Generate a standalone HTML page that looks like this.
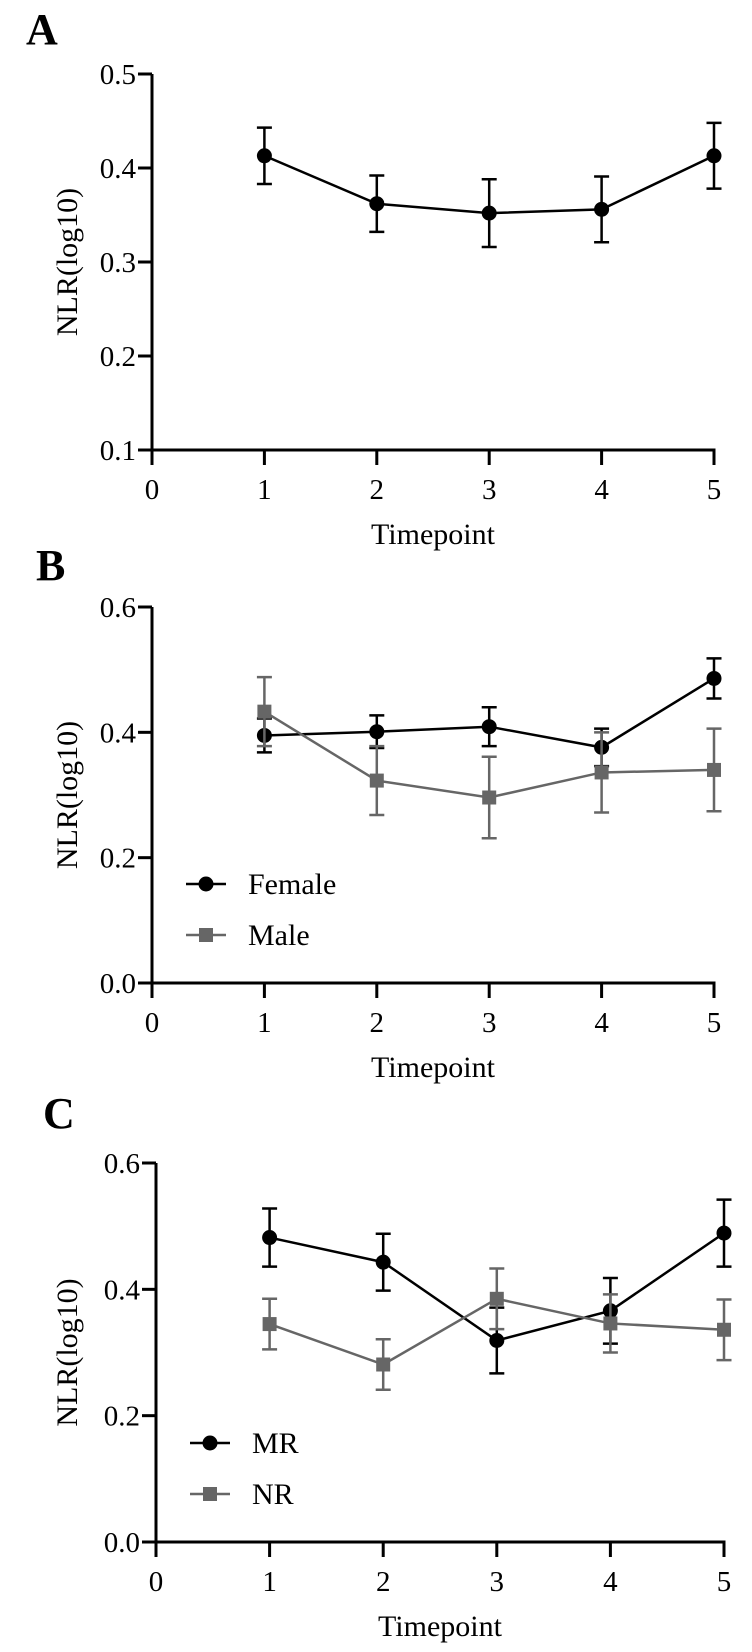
<!DOCTYPE html>
<html><head><meta charset="utf-8"><style>
html,body{margin:0;padding:0;background:#fff;}
svg{display:block;font-family:"Liberation Serif",serif;}
</style></head><body>
<svg id="fig" width="752" height="1652" viewBox="0 0 752 1652" xmlns="http://www.w3.org/2000/svg">
<text x="26" y="44" font-size="44" font-weight="bold">A</text>
<text x="36" y="580" font-size="44" font-weight="bold">B</text>
<text x="43" y="1128" font-size="44" font-weight="bold">C</text>
</svg>
<script>
const categories = [1, 2, 3, 4, 5];
const xTickLabels = ["0", "1", "2", "3", "4", "5"];
const aTickLabels = ["0.1", "0.2", "0.3", "0.4", "0.5"];
const bcTickLabels = ["0.0", "0.2", "0.4", "0.6"];
const aMean = [0.413, 0.362, 0.352, 0.356, 0.413];
const aSem = [0.030, 0.030, 0.036, 0.035, 0.035];
const femaleMean = [0.395, 0.401, 0.409, 0.376, 0.486];
const femaleSem = [0.027, 0.026, 0.031, 0.030, 0.032];
const maleMean = [0.433, 0.323, 0.296, 0.336, 0.340];
const maleSem = [0.055, 0.055, 0.065, 0.064, 0.066];
const mrMean = [0.482, 0.443, 0.319, 0.366, 0.489];
const mrSem = [0.046, 0.045, 0.052, 0.052, 0.053];
const nrMean = [0.345, 0.281, 0.385, 0.346, 0.336];
const nrSem = [0.040, 0.040, 0.048, 0.046, 0.048];

const svg = document.getElementById('fig');
const NS = 'http://www.w3.org/2000/svg';
function mk(tag, attrs) {
  const e = document.createElementNS(NS, tag);
  for (const k in attrs) e.setAttribute(k, attrs[k]);
  svg.appendChild(e);
  return e;
}
function txt(x, y, s, size, anchor) {
  const t = mk('text', {x: x, y: y, 'font-size': size, 'text-anchor': anchor || 'middle', fill: '#000'});
  t.textContent = s;
  return t;
}

function panel(p) {
  const xs = v => p.x0 + v * p.xu;
  const ys = v => p.yb - (v - p.ymin) / (p.ymax - p.ymin) * (p.yb - p.yt);
  let a = mk('line', {x1: p.x0, y1: p.yt, x2: p.x0, y2: p.yb + 1.5, stroke: '#000', 'stroke-width': 3});
  
  
  a = mk('line', {x1: p.x0 - 1.5, y1: p.yb, x2: xs(5) + 1.5, y2: p.yb, stroke: '#000', 'stroke-width': 3});
  
  
  p.yticks.forEach(lab => {
    const v = parseFloat(lab), y = ys(v);
    mk('line', {x1: p.x0 - 14, y1: y, x2: p.x0, y2: y, stroke: '#000', 'stroke-width': 3});
    const t = txt(p.x0 - 16, y + 10, lab, 29, 'end');
    
    
  });
  xTickLabels.forEach(lab => {
    const x = xs(parseFloat(lab));
    mk('line', {x1: x, y1: p.yb, x2: x, y2: p.yb + 15, stroke: '#000', 'stroke-width': 3});
    const t = txt(x, p.yb + 49, lab, 29);
    
    
  });
  let t = txt((p.x0 + xs(5)) / 2, p.yb + 94, 'Timepoint', 30);
  
  
  const cy = (p.yt + p.yb) / 2;
  t = txt(77, cy, 'NLR(log10)', 30);
  t.setAttribute('transform', 'rotate(-90 77 ' + cy + ')');
  
  

  p.series.forEach(s => {
    const pts = categories.map((c, i) => xs(c) + ',' + ys(s.mean[i])).join(' ');
    const pl = mk('polyline', {points: pts, fill: 'none', stroke: s.color, 'stroke-width': 2.5});
    
    
    categories.forEach((c, i) => {
      const x = xs(c), y1 = ys(s.mean[i] + s.sem[i]), y2 = ys(s.mean[i] - s.sem[i]);
      const g = mk('path', {d: 'M' + x + ',' + y1 + 'V' + y2 + 'M' + (x - 7.5) + ',' + y1 + 'h15M' + (x - 7.5) + ',' + y2 + 'h15', stroke: s.color, 'stroke-width': 2.5, fill: 'none'});
      
      
      let m;
      if (s.shape === 'circle') m = mk('circle', {cx: x, cy: ys(s.mean[i]), r: 7.5, fill: s.color});
      else m = mk('rect', {x: x - 7, y: ys(s.mean[i]) - 7, width: 14, height: 14, fill: s.color});
      
      
    });
  });
  if (p.legend) {
    p.series.forEach((s, i) => {
      const y = p.legendY + i * 51;
      mk('line', {x1: p.legendX, y1: y, x2: p.legendX + 40, y2: y, stroke: s.color, 'stroke-width': 2.5});
      let m;
      if (s.shape === 'circle') m = mk('circle', {cx: p.legendX + 20, cy: y, r: 7.5, fill: s.color});
      else m = mk('rect', {x: p.legendX + 13, y: y - 7, width: 14, height: 14, fill: s.color});
      
      
      const lt = txt(p.legendX + 62, y + 10, s.label, 30, 'start');
      
      
    });
  }
}

panel({id: 'panel-a', x0: 152, xu: 112.4, yt: 74, yb: 450, ymin: 0.1, ymax: 0.5, yticks: aTickLabels,
  series: [{key: 'overall', mean: aMean, sem: aSem, color: '#000', shape: 'circle'}]});
panel({id: 'panel-b', x0: 152, xu: 112.4, yt: 607, yb: 983, ymin: 0, ymax: 0.6, yticks: bcTickLabels,
  legend: true, legendX: 186, legendY: 884,
  series: [{key: 'female', label: 'Female', mean: femaleMean, sem: femaleSem, color: '#000', shape: 'circle'},
           {key: 'male', label: 'Male', mean: maleMean, sem: maleSem, color: '#666', shape: 'square'}]});
panel({id: 'panel-c', x0: 156, xu: 113.6, yt: 1163, yb: 1542, ymin: 0, ymax: 0.6, yticks: bcTickLabels,
  legend: true, legendX: 190, legendY: 1443,
  series: [{key: 'mr', label: 'MR', mean: mrMean, sem: mrSem, color: '#000', shape: 'circle'},
           {key: 'nr', label: 'NR', mean: nrMean, sem: nrSem, color: '#666', shape: 'square'}]});
</script>
</body></html>
